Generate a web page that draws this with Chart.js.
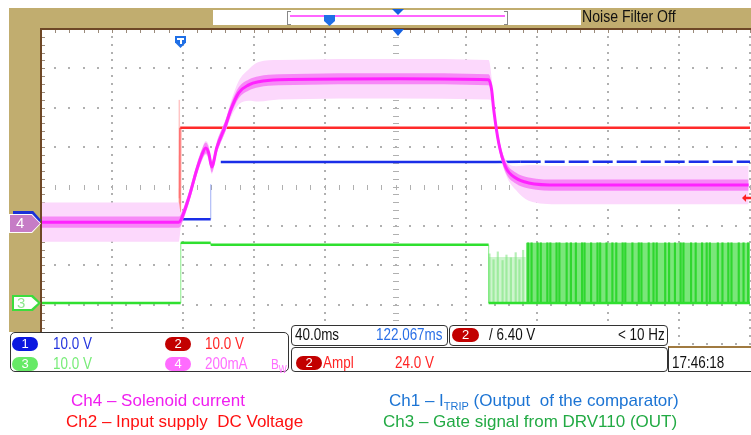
<!DOCTYPE html>
<html>
<head>
<meta charset="utf-8">
<script src="https://cdn.jsdelivr.net/npm/chart.js@4.4.1/dist/chart.umd.min.js"></script>
<style>
  body { margin: 0; background: #fff; }
  #scope { position: relative; width: 751px; height: 435px; overflow: hidden;
           font-family: "Liberation Sans", Arial, sans-serif; }
  .a { position: absolute; }
  .bezel { background: #c1ad6f; z-index: 1; }
  .frame { background: #6e4726; z-index: 3; }
  #plot { position: absolute; left: 0; top: 0; z-index: 2; }
  .top { z-index: 4; }
  .pent-r { clip-path: polygon(0 0, 72% 0, 100% 50%, 72% 100%, 0 100%); }
  .pent-d { clip-path: polygon(0 0, 100% 0, 100% 55%, 50% 100%, 0 55%); }
  .box { background: #fff; border: 1.5px solid #333; border-radius: 5px; box-sizing: border-box; z-index: 4; }
  .pill { width: 26px; height: 14px; border-radius: 7px; color: #fff; text-align: center;
          font: 13px/14px "Liberation Sans", Arial, sans-serif; z-index: 5; }
  /* scope readouts use a condensed face */
  .rd { font-size: 16px; line-height: 20px; z-index: 5; white-space: nowrap;
        transform: scaleX(0.84); transform-origin: 0 0; }
  .cap { font: 17px/20px "Liberation Sans", Arial, sans-serif; white-space: nowrap; z-index: 5; }
</style>
</head>
<body>
<div id="scope">
  <!-- scope bezel -->
  <div class="a bezel" style="left:9px;top:8px;width:742px;height:21px"></div>
  <div class="a bezel" style="left:9px;top:8px;width:32px;height:324px"></div>
  <div class="a frame" style="left:40px;top:28px;width:2px;height:304px"></div>
  <div class="a frame" style="left:40px;top:28px;width:711px;height:2px"></div>

  <!-- memory bar -->
  <div class="a top" style="left:213px;top:10px;width:368px;height:15px;background:#fff"></div>
  <div class="a top" style="left:287px;top:11px;width:3px;height:12px;border:1px solid #888;border-right:none"></div>
  <div class="a top" style="left:504px;top:11px;width:3px;height:12px;border:1px solid #888;border-left:none"></div>
  <div class="a top" style="left:290px;top:15px;width:215px;height:2px;background:#ff66ff"></div>
  <div class="a top pent-d" style="left:324px;top:15px;width:11px;height:11px;background:#1f6fe6"></div>
  <div class="a top" style="left:392px;top:9px;width:12px;height:6px;background:#1560e0;clip-path:polygon(0 0,100% 0,50% 100%)"></div>
  <div class="a top rd" style="left:582px;top:7px;color:#111;transform:scaleX(0.88)">Noise Filter Off</div>

  <!-- markers on the graticule -->
  <div class="a top" style="left:392px;top:29px;width:12px;height:7px;background:#1560e0;clip-path:polygon(0 0,100% 0,50% 100%)"></div>
  <div class="a top pent-d" style="left:175px;top:36px;width:11px;height:12px;background:#1f6fe6"></div>
  <div class="a top" style="left:177px;top:38px;width:7px;height:2px;background:#fff"></div>
  <div class="a top" style="left:180px;top:38px;width:1.5px;height:6px;background:#fff"></div>
  <div class="a top" style="left:742px;top:194px;width:9px;height:8px;background:#ff2020;clip-path:polygon(0 50%,45% 0,45% 35%,100% 35%,100% 65%,45% 65%,45% 100%)"></div>

  <!-- channel ground markers -->
  <div class="a top pent-r" style="left:13px;top:211px;width:28px;height:18px;background:#1a30d8"></div>
  <div class="a top pent-r" style="left:9px;top:214px;width:32px;height:19px;background:#fff"></div>
  <div class="a top pent-r" style="left:10px;top:215px;width:30px;height:17px;background:#c67cc6"></div>
  <div class="a top rd" style="left:16px;top:213px;color:#fff;font-size:15px;transform:none">4</div>
  <div class="a top pent-r" style="left:12px;top:295px;width:29px;height:16px;background:#3ddc3d"></div>
  <div class="a top pent-r" style="left:14px;top:297px;width:24px;height:12px;background:#fff"></div>
  <div class="a top rd" style="left:17px;top:293px;color:#8fe88f;font-size:15px;transform:none">3</div>

  <canvas id="plot" width="751" height="435"></canvas>

  <!-- readout boxes -->
  <div class="a box" style="left:10px;top:332px;width:279px;height:40px"></div>
  <div class="a pill" style="left:12px;top:337px;background:#0b18e0">1</div>
  <div class="a rd" style="left:53px;top:334px;color:#2233dd">10.0 V</div>
  <div class="a pill" style="left:165px;top:337px;background:#c20000">2</div>
  <div class="a rd" style="left:205px;top:334px;color:#ff2424">10.0 V</div>
  <div class="a pill" style="left:12px;top:357px;background:#66ea66">3</div>
  <div class="a rd" style="left:53px;top:354px;color:#77ec77">10.0 V</div>
  <div class="a pill" style="left:165px;top:357px;background:#ff6cff">4</div>
  <div class="a rd" style="left:205px;top:354px;color:#ff6cff">200mA</div>
  <div class="a rd" style="left:271px;top:354px;color:#ff6cff;font-size:14px">B<sub style="font-size:10px">W</sub></div>

  <div class="a box" style="left:291px;top:325px;width:157px;height:21px;border-radius:4px"></div>
  <div class="a rd" style="left:295px;top:325px;color:#111">40.0ms</div>
  <div class="a rd" style="left:376px;top:325px;color:#2a6fe6">122.067ms</div>

  <div class="a box" style="left:449px;top:325px;width:219px;height:21px;border-radius:4px"></div>
  <div class="a pill" style="left:452px;top:328px;width:27px;background:#c20000">2</div>
  <div class="a rd" style="left:489px;top:325px;color:#111">/ 6.40 V</div>
  <div class="a rd" style="left:618px;top:325px;color:#111">&lt; 10 Hz</div>

  <div class="a box" style="left:291px;top:347px;width:377px;height:25px;border-radius:4px"></div>
  <div class="a pill" style="left:296px;top:356px;background:#c20000">2</div>
  <div class="a rd" style="left:323px;top:353px;color:#ff2424">Ampl</div>
  <div class="a rd" style="left:395px;top:353px;color:#ff2424">24.0 V</div>

  <div class="a box" style="left:668px;top:346px;width:90px;height:26px;border-radius:0;border-top:2px solid #a07a40"></div>
  <div class="a rd" style="left:672px;top:353px;color:#111">17:46:18</div>

  <!-- captions -->
  <div class="a cap" style="left:71px;top:391px;color:#f01ef0">Ch4 – Solenoid current</div>
  <div class="a cap" style="left:66px;top:412px;color:#ff1010">Ch2 – Input supply&nbsp; DC Voltage</div>
  <div class="a cap" style="left:389px;top:391px;color:#1c74d4">Ch1 – I<sub style="font-size:11px">TRIP</sub> (Output&nbsp; of the comparator)</div>
  <div class="a cap" style="left:383px;top:412px;color:#22aa44">Ch3 – Gate signal from DRV110 (OUT)</div>
</div>

<script>
// ── TIMEBASE ───────────────────────────────────────────────────
// 40 ms/div, 10 div, screen centre delayed 122.067 ms after the trigger
const timePerDiv = 40;
const delayMs = 122.067;
const xMin = delayMs - 5 * timePerDiv;
const xMax = delayMs + 5 * timePerDiv;

// ── CHANNEL SETTINGS (units per div, ground level in div) ───────
const ch1PerDiv = 10, ch1Ground = -0.83;   // V
const ch2PerDiv = 10, ch2Ground = -0.90;   // V
const ch3PerDiv = 10, ch3Ground = -2.96;   // V
const ch4PerDiv = 200, ch4Ground = -0.93;  // mA

// ── TRACES (time in ms after trigger) ──────────────────────────
// Ch2 – input supply
const ch2Time = [-77.9, 0.4, 0.6, 322.1];
const ch2Volt = [0, 0, 23.9, 23.9];
const ch2SpikeTime = [0.1, 0.1];
const ch2SpikeVolt = [6, 31];

// Ch1 – ITRIP comparator output (null = hidden under the current trace)
const ch1Time = [-77.9, 17.8, 17.8, 20.0, 23.5, 178.7, 192.7, 322.1];
const ch1Volt = [0, 0, 8.9, null, 14.5, 14.5, 14.6, 14.6];

// Ch3 – gate signal
const ch3Time = [-77.9, 0.9, 0.9, 17.8, 17.8, 174.6, 174.6, 322.1];
const ch3Volt = [0, 0, 15.3, 15.3, 14.8, 14.8, 0, 0];
const pwmPaleTime = [174.6, 195.6];
const pwmPaleTop = 11.7;
const pwmDenseTime = [195.6, 322.1];
const pwmDenseTop = 15.3;
const pwmPaleStripeTime = [175.5, 177.8, 180.2, 182.9, 185.1, 187.6, 190.3, 192.4, 194.5];
const pwmPaleStripeVolt = [12.5, 11.0, 13.0, 10.8, 12.2, 11.5, 12.8, 11.0, 13.4];
const pwmStripeTime = [196.5, 198.4, 201.8, 203.6, 207.3, 209.0, 212.5, 214.1, 218.2, 220.6,
  223.4, 226.9, 228.3, 232.0, 235.6, 237.1, 240.7, 244.0, 246.2, 249.8, 251.3, 255.3, 258.9,
  260.4, 264.5, 267.2, 269.0, 273.8, 276.0, 279.3, 282.5, 284.1, 288.4, 291.0, 294.6, 297.2,
  299.0, 303.5, 306.1, 309.4, 311.2, 315.3, 318.0, 320.6];

// Ch4 – solenoid current: trace centre, half-width of the faint envelope, half-width of the dense core
const ch4Time = [-77.9, -0.2, 0.9, 5.4, 9.9, 12.8, 15.0, 16.7, 18.4, 21.2, 26.3, 29.1, 33.6,
  39.3, 44.9, 56.2, 124.0, 174.6, 176.3, 177.5, 180.3, 184.2, 189.9, 197.2, 214.1, 321.3];
const ch4Amp = [5, 5, 15, 127, 270, 346, 382, 356, 285, 382, 499, 575, 662,
  702, 718, 728, 733, 728, 677, 575, 407, 285, 229, 204, 193, 193];
const ch4Noise = [100, 100, 40, 25, 25, 30, 35, 40, 35, 30, 30, 40, 60,
  80, 100, 100, 100, 100, 60, 30, 25, 35, 60, 90, 97, 97];
const ch4Core = 28;

// ── HELPERS ────────────────────────────────────────────────────
const toDiv = (v, perDiv, ground) => v === null ? null : v / perDiv + ground;
const pts = (times, vals, perDiv, ground) =>
  times.map((t, i) => ({ x: t, y: toDiv(vals[i], perDiv, ground) }));
const steep = c => c.p0.parsed.x === c.p1.parsed.x;

// ── GRATICULE ──────────────────────────────────────────────────
const graticule = {
  id: 'graticule',
  beforeDatasetsDraw(chart) {
    const { ctx, chartArea: a, scales: { x, y } } = chart;
    const r = Math.round;
    const majX = [], majY = [], minX = [], minY = [];
    for (let k = 0; k <= 10; k++) majX.push(r(x.getPixelForValue(xMin + k * timePerDiv)));
    for (let j = -4; j <= 4; j++) majY.push(r(y.getPixelForValue(j)));
    for (let k = 0; k <= 50; k++) minX.push(r(x.getPixelForValue(xMin + k * timePerDiv / 5)));
    for (let j = 0; j <= 40; j++) minY.push(r(y.getPixelForValue(-4 + j * 0.2)));
    ctx.save();
    ctx.fillStyle = '#b0b0b0';
    majX.forEach((px, k) => {
      if (k === 0 || k === 5) return;
      minY.forEach(py => ctx.fillRect(px - 1, py - 1, 2, 2));
    });
    majY.forEach((py, j) => {
      if (j === 4 || j === 8) return;
      minX.forEach(px => ctx.fillRect(px - 1, py - 1, 2, 2));
    });
    // centre axes carry short ticks
    const cx = majX[5], cy = majY[4];
    minY.forEach(py => ctx.fillRect(cx - 3, py, 6, 1));
    minX.forEach(px => ctx.fillRect(px, cy - 2, 1, 5));
    // ticks along the frame
    ctx.fillStyle = '#9a8a7a';
    minY.forEach(py => ctx.fillRect(a.left + 1, py, 3, 1));
    minX.forEach(px => ctx.fillRect(px, a.top + 1, 1, 3));
    ctx.restore();
  }
};

// ── DATASETS ───────────────────────────────────────────────────
const band = (spread, sign) => ch4Amp.map((v, i) => v + sign * (Array.isArray(spread) ? spread[i] : spread));

const datasets = [
  {
    type: 'bar', label: 'Ch3 PWM pale',
    data: pwmPaleStripeTime.map((t, i) => ({ x: t, y: [ch3Ground, toDiv(pwmPaleStripeVolt[i], ch3PerDiv, ch3Ground)] })),
    backgroundColor: 'rgba(120,225,120,0.55)', barThickness: 1.5, order: 11,
  },
  {
    label: 'Ch3 PWM pale band',
    data: pwmPaleTime.map(t => ({ x: t, y: toDiv(pwmPaleTop, ch3PerDiv, ch3Ground) })),
    borderWidth: 0, fill: { value: ch3Ground }, backgroundColor: '#cdf5cd', order: 12,
  },
  {
    label: 'Ch3 PWM band',
    data: pwmDenseTime.map(t => ({ x: t, y: toDiv(pwmDenseTop, ch3PerDiv, ch3Ground) })),
    borderWidth: 0, fill: { value: ch3Ground }, backgroundColor: '#7ae67a', order: 12,
  },
  {
    type: 'bar', label: 'Ch3 PWM',
    data: pwmStripeTime.map(t => ({ x: t, y: [ch3Ground, toDiv(pwmDenseTop, ch3PerDiv, ch3Ground)] })),
    backgroundColor: '#2fd62f', barThickness: 1.5, order: 11,
  },
  {
    label: 'Ch3',
    data: pts(ch3Time, ch3Volt, ch3PerDiv, ch3Ground),
    borderColor: '#2fe02f', borderWidth: 2.5,
    segment: { borderColor: c => steep(c) ? 'rgba(60,225,60,0.5)' : undefined, borderWidth: c => steep(c) ? 1.2 : undefined },
    order: 10,
  },
  {
    label: 'Ch2 spike',
    data: pts(ch2SpikeTime, ch2SpikeVolt, ch2PerDiv, ch2Ground),
    borderColor: 'rgba(255,90,90,0.35)', borderWidth: 1.5, order: 8,
  },
  {
    label: 'Ch2',
    data: pts(ch2Time, ch2Volt, ch2PerDiv, ch2Ground),
    borderColor: '#ff2a2a', borderWidth: 2.5,
    segment: { borderColor: c => c.p1.parsed.x - c.p0.parsed.x < 0.5 ? 'rgba(255,60,60,0.6)' : undefined },
    order: 7,
  },
  {
    label: 'Ch1',
    data: pts(ch1Time, ch1Volt, ch1PerDiv, ch1Ground),
    borderColor: '#1a2ee8', borderWidth: 2.5, spanGaps: false,
    segment: {
      borderColor: c => steep(c) ? 'rgba(60,90,235,0.4)' : undefined,
      borderWidth: c => steep(c) ? 1.2 : undefined,
      borderDash: c => c.p0.parsed.x >= 190 ? [20, 4] : undefined,
    },
    order: 6,
  },
  {
    label: 'Ch4 envelope',
    data: pts(ch4Time, band(ch4Noise, 1), ch4PerDiv, ch4Ground),
    borderWidth: 0, fill: '+1', backgroundColor: '#fcd8fc',
    cubicInterpolationMode: 'monotone', order: 4,
  },
  {
    label: 'Ch4 envelope low',
    data: pts(ch4Time, band(ch4Noise, -1), ch4PerDiv, ch4Ground),
    borderWidth: 0, cubicInterpolationMode: 'monotone', order: 4,
  },
  {
    label: 'Ch4 core',
    data: pts(ch4Time, band(ch4Core, 1), ch4PerDiv, ch4Ground),
    borderWidth: 0, fill: '+1', backgroundColor: 'rgba(246,110,246,0.75)',
    cubicInterpolationMode: 'monotone', order: 2,
  },
  {
    label: 'Ch4 core low',
    data: pts(ch4Time, band(ch4Core, -1), ch4PerDiv, ch4Ground),
    borderWidth: 0, cubicInterpolationMode: 'monotone', order: 2,
  },
  {
    label: 'Ch4',
    data: pts(ch4Time, ch4Amp, ch4PerDiv, ch4Ground),
    borderColor: '#ff22ff', borderWidth: 3,
    cubicInterpolationMode: 'monotone', order: 1,
  },
];

new Chart(document.getElementById('plot').getContext('2d'), {
  type: 'line',
  data: { datasets },
  options: {
    responsive: false,
    animation: false,
    devicePixelRatio: 1,
    layout: { padding: { left: 41, top: 29, right: 1, bottom: 91 } },
    elements: { point: { radius: 0 }, line: { tension: 0 }, bar: { borderWidth: 0 } },
    plugins: { legend: { display: false }, tooltip: { enabled: false } },
    scales: {
      x: { type: 'linear', min: xMin, max: xMax, offset: false, display: false },
      y: { type: 'linear', min: -4, max: 4, display: false },
    },
  },
  plugins: [graticule],
});
</script>
</body>
</html>
